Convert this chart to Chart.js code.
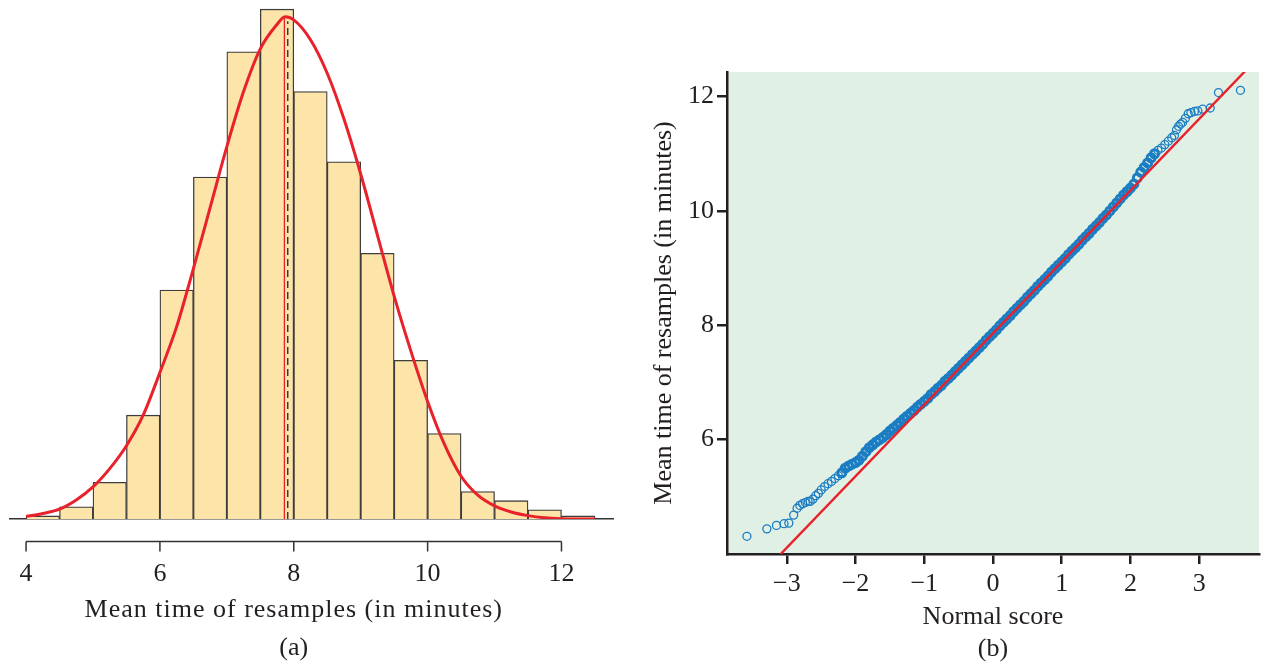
<!DOCTYPE html>
<html>
<head>
<meta charset="utf-8">
<script src="https://cdn.jsdelivr.net/npm/chart.js@4"></script>
<style>
    html, body { margin: 0; padding: 0; background: #fff; overflow: hidden; }
    #left-box { position: absolute; left: 0; top: 0; width: 630px; height: 662px; }
    #right-box { position: absolute; left: 630px; top: 0; width: 636px; height: 662px; }
</style>
</head>
<body>
<div id="left-box"><canvas id="hist-chart"></canvas></div>
<div id="right-box"><canvas id="qq-chart"></canvas></div>
<script>
// (a) histogram of resample means, 0.5-minute bins
const binCenters = [4.25, 4.75, 5.25, 5.75, 6.25, 6.75, 7.25, 7.75, 8.25, 8.75, 9.25, 9.75, 10.25, 10.75, 11.25, 11.75, 12.25];
const binCounts = [1, 4, 12, 34, 75, 112, 153, 167, 140, 117, 87, 52, 28, 9, 6, 3, 1];

// density curve drawn over the histogram (same count scale)
const curveX = [4.0, 4.25, 4.5, 4.75, 5.0, 5.25, 5.5, 5.75, 6.0, 6.25, 6.5, 6.75, 7.0, 7.25, 7.5, 7.75, 7.87,
                8.0, 8.25, 8.5, 8.75, 9.0, 9.25, 9.5, 9.75, 10.0, 10.25, 10.5, 10.75, 11.0, 11.25, 11.5, 11.75, 12.0, 12.25, 12.5];
const curveY = [0.8, 1.8, 3.2, 6.2, 10.5, 16.5, 24, 34, 48, 63, 82, 102, 122, 140, 154, 162, 164.5,
                163.5, 157, 146, 131, 113, 93, 73, 55, 38.5, 24.5, 14, 7.8, 4.3, 2.3, 1.1, 0.4, 0.1, 0, 0];

const meanTime = 7.86;
const meanLineTop = 164.5;
const dashedTime = 7.91;
const dashedLineTop = 163;
const histTicks = [4, 6, 8, 10, 12];
const histTitle = ['Mean time of resamples (in minutes)', '(a)'];

// (b) normal quantile plot
const normalScores = [
    -3.58, -3.29, -3.15, -3.04, -2.97, -2.90, -2.85, -2.81, -2.77, -2.73, -2.69, -2.66, -2.62, -2.58, -2.54,
    -2.50, -2.45, -2.40, -2.35, -2.30, -2.25, -2.20, -2.15, -2.10, -2.05, -2.00, -1.95, -1.90, -1.85, -1.80,
    -1.75, -1.70, -1.65, -1.60, -1.55, -1.50, -1.45, -1.40, -1.35, -1.30, -1.25, -1.20, -1.15, -1.10, -1.05,
    -1.00, -0.95, -0.90, -0.85, -0.80, -0.75, -0.70, -0.65, -0.60, -0.55, -0.50, -0.45, -0.40, -0.35, -0.30,
    -0.25, -0.20, -0.15, -0.10, -0.05, 0.00, 0.05, 0.10, 0.15, 0.20, 0.25, 0.30, 0.35, 0.40, 0.45,
    0.50, 0.55, 0.60, 0.65, 0.70, 0.75, 0.80, 0.85, 0.90, 0.95, 1.00, 1.05, 1.10, 1.15, 1.20,
    1.25, 1.30, 1.35, 1.40, 1.45, 1.50, 1.55, 1.60, 1.65, 1.70, 1.75, 1.80, 1.85, 1.90, 1.95,
    2.00, 2.05, 2.10, 2.15, 2.20, 2.25, 2.30, 2.35, 2.40, 2.45, 2.50, 2.55, 2.60,
    2.64, 2.67, 2.70, 2.73, 2.76, 2.80, 2.84, 2.88, 2.93, 2.98, 3.05, 3.16, 3.28, 3.60
];
const resampleMeans = [
    4.31, 4.44, 4.50, 4.53, 4.54, 4.68, 4.80, 4.85, 4.88, 4.90, 4.92, 4.92, 4.96, 5.02, 5.06,
    5.12, 5.18, 5.23, 5.27, 5.32, 5.37, 5.42, 5.50, 5.54, 5.57, 5.60, 5.64, 5.71, 5.79, 5.86,
    5.91, 5.96, 6.00, 6.04, 6.09, 6.15, 6.20, 6.25, 6.30, 6.36, 6.41, 6.46, 6.51, 6.57, 6.62,
    6.67, 6.72, 6.79, 6.84, 6.90, 6.95, 7.02, 7.07, 7.13, 7.19, 7.25, 7.31, 7.37, 7.43, 7.49,
    7.55, 7.61, 7.67, 7.74, 7.80, 7.86, 7.92, 7.99, 8.05, 8.11, 8.17, 8.24, 8.30, 8.36, 8.42,
    8.49, 8.55, 8.61, 8.68, 8.74, 8.80, 8.86, 8.93, 8.99, 9.05, 9.11, 9.17, 9.24, 9.30, 9.36,
    9.42, 9.49, 9.55, 9.61, 9.68, 9.74, 9.80, 9.87, 9.93, 10.00, 10.07, 10.14, 10.21, 10.28, 10.34,
    10.40, 10.47, 10.58, 10.68, 10.76, 10.84, 10.93, 11.00, 11.06, 11.10, 11.16, 11.22, 11.28,
    11.32, 11.42, 11.48, 11.52, 11.55, 11.62, 11.70, 11.72, 11.74, 11.75, 11.78, 11.80, 12.07, 12.11
];
const fitLineX = [-3.2, 3.8];
const fitLineY = [3.86, 12.61];
const scoreTicks = [-3, -2, -1, 0, 1, 2, 3];
const meanTicks = [6, 8, 10, 12];

const FONT = "'Liberation Serif', 'Times New Roman', serif";
const RED = '#e8212b';
const INK = '#231f20';

Chart.defaults.animation = false;
Chart.defaults.plugins.legend.display = false;
Chart.defaults.plugins.tooltip.enabled = false;
Chart.defaults.color = INK;

// separate axis line under the histogram (ticks hang down) plus its title,
// centred on the 4..12 span rather than on the plot area
const lowerAxis = {
    id: 'lowerAxis',
    afterDraw(chart) {
        const { ctx, chartArea } = chart;
        const x = chart.scales.x;
        const y = chartArea.bottom + 22.5;
        const x0 = x.getPixelForValue(histTicks[0]);
        const x1 = x.getPixelForValue(histTicks[histTicks.length - 1]);
        ctx.save();
        ctx.strokeStyle = '#333';
        ctx.lineWidth = 1.5;
        ctx.beginPath();
        ctx.moveTo(x0, y);
        ctx.lineTo(x1, y);
        histTicks.forEach(v => {
            const px = x.getPixelForValue(v);
            ctx.moveTo(px, y);
            ctx.lineTo(px, y + 10);
        });
        ctx.stroke();

        ctx.fillStyle = INK;
        ctx.font = '26px ' + FONT;
        ctx.letterSpacing = '1px';
        ctx.textAlign = 'center';
        ctx.textBaseline = 'middle';
        ctx.fillText(histTitle[0], (x0 + x1) / 2, 610);
        ctx.letterSpacing = '0px';
        ctx.fillText(histTitle[1], (x0 + x1) / 2, 648);
        ctx.restore();
    }
};

const plotBackground = {
    id: 'plotBackground',
    beforeDraw(chart) {
        const { ctx, chartArea } = chart;
        ctx.save();
        ctx.fillStyle = '#e1f0e5';
        ctx.fillRect(chartArea.left, chartArea.top, chartArea.width, chartArea.height);
        ctx.restore();
    }
};

function fixedTicks(values) {
    return scale => { scale.ticks = values.map(v => ({ value: v })); };
}

// crowded middle of the quantile plot: rings overlap into a solid band
const ringWidths = normalScores.map(s => (s > -2.25 && s < 2.4 ? 3 : 1.3));

new Chart(document.getElementById('hist-chart'), {
    type: 'bar',
    data: {
        datasets: [
            {
                type: 'line',
                data: curveX.map((x, i) => ({ x: x, y: curveY[i] })),
                borderColor: RED,
                borderWidth: 3,
                pointRadius: 0,
                cubicInterpolationMode: 'monotone',
                order: 0
            },
            {
                type: 'line',
                data: [{ x: meanTime, y: 0 }, { x: meanTime, y: meanLineTop }],
                borderColor: RED,
                borderWidth: 1.3,
                pointRadius: 0,
                order: 1
            },
            {
                type: 'line',
                data: [{ x: dashedTime, y: 0 }, { x: dashedTime, y: dashedLineTop }],
                borderColor: '#333',
                borderWidth: 1.4,
                borderDash: [7, 4],
                pointRadius: 0,
                order: 1
            },
            {
                type: 'bar',
                data: binCenters.map((x, i) => ({ x: x, y: binCounts[i] })),
                backgroundColor: '#fde4a9',
                borderColor: '#3d3d3d',
                borderWidth: 1.3,
                barPercentage: 1,
                categoryPercentage: 1,
                order: 2
            }
        ]
    },
    options: {
        responsive: true,
        maintainAspectRatio: false,
        layout: { padding: { left: 10, right: 17, top: 0, bottom: 0 } },
        scales: {
            x: {
                type: 'linear',
                min: 3.76,
                max: 12.77,
                offset: false,
                afterBuildTicks: fixedTicks(histTicks),
                afterFit: scale => { scale.height = 143; },
                grid: { display: false, drawTicks: false, offset: false },
                border: { display: true, color: '#333', width: 1.5 },
                ticks: { padding: 0, color: INK, maxRotation: 0, autoSkip: false, font: { family: FONT, size: 26, lineHeight: '110px' } }
            },
            y: { display: false, min: 0, max: 170 }
        }
    },
    plugins: [lowerAxis]
});

new Chart(document.getElementById('qq-chart'), {
    type: 'scatter',
    data: {
        datasets: [
            {
                data: fitLineX.map((x, i) => ({ x: x, y: fitLineY[i] })),
                showLine: true,
                borderColor: RED,
                borderWidth: 2.4,
                pointRadius: 0,
                order: 0
            },
            {
                data: normalScores.map((x, i) => ({ x: x, y: resampleMeans[i] })),
                pointRadius: 4,
                pointBorderWidth: ringWidths,
                pointBorderColor: '#1b7dc3',
                pointBackgroundColor: 'rgba(0,0,0,0)',
                order: 1
            }
        ]
    },
    options: {
        responsive: true,
        maintainAspectRatio: false,
        layout: { padding: { left: 0, right: 1, top: 72, bottom: 0 } },
        scales: {
            x: {
                type: 'linear',
                min: -3.87,
                max: 3.87,
                afterBuildTicks: fixedTicks(scoreTicks),
                afterFit: scale => { scale.height = 108; },
                grid: { drawOnChartArea: false, drawTicks: true, tickLength: 10, color: INK, lineWidth: 2.5 },
                border: { color: INK, width: 2.5 },
                ticks: {
                    padding: 5, color: INK, maxRotation: 0, autoSkip: false,
                    font: { family: FONT, size: 26 },
                    callback: v => (v < 0 ? '\u2212' + (-v) : String(v))
                },
                title: {
                    display: true,
                    text: ['Normal score', '(b)'],
                    color: INK,
                    font: { family: FONT, size: 26, lineHeight: '32px' },
                    padding: { top: 0, bottom: -3 }
                }
            },
            y: {
                type: 'linear',
                min: 4,
                max: 12.43,
                afterBuildTicks: fixedTicks(meanTicks),
                afterFit: scale => { scale.width = 97; },
                grid: { drawOnChartArea: false, drawTicks: true, tickLength: 10, color: INK, lineWidth: 2.5 },
                border: { color: INK, width: 2.5 },
                ticks: { padding: 3, color: INK, autoSkip: false, font: { family: FONT, size: 26 } },
                title: {
                    display: true,
                    text: 'Mean time of resamples (in minutes)',
                    color: INK,
                    font: { family: FONT, size: 26 },
                    padding: { top: 19, bottom: 0 }
                }
            }
        }
    },
    plugins: [plotBackground]
});
</script>
</body>
</html>
